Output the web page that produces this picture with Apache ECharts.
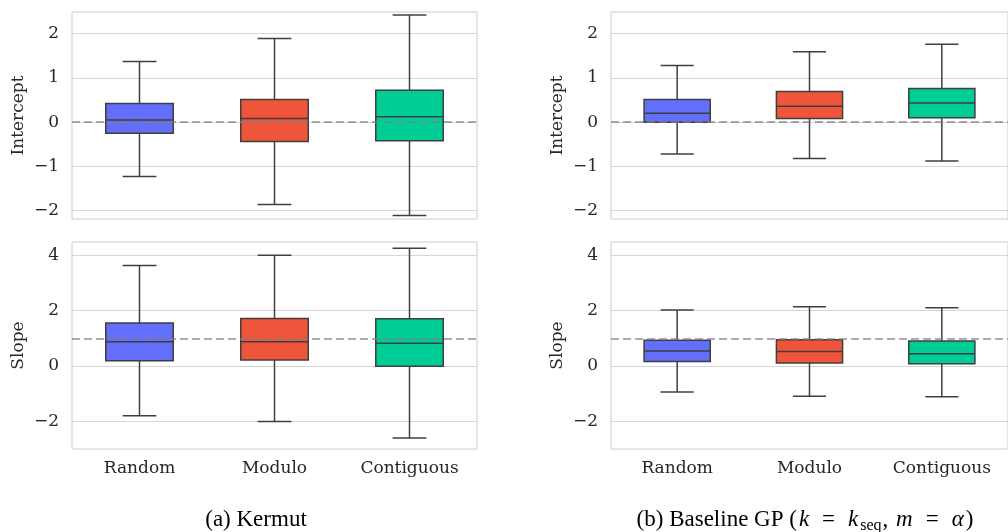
<!DOCTYPE html>
<html>
<head>
<meta charset="utf-8">
<script src="https://cdn.jsdelivr.net/npm/echarts@6/dist/echarts.min.js"></script>
<style>
  html, body { margin: 0; padding: 0; background: #fff; }
  #chart { width: 1008px; height: 532px; }
</style>
</head>
<body>
<div id="chart"></div>
<script>
// categories and box stats: [min, q1, median, q3, max]
const categories = ["Random", "Modulo", "Contiguous"];
const colors = ["#636efa", "#ef553b", "#00cc96"];

const kermutIntercept = [
  [-1.23, -0.25, 0.05, 0.42, 1.37],
  [-1.86, -0.44, 0.08, 0.51, 1.89],
  [-2.11, -0.42, 0.12, 0.72, 2.42]
];
const kermutSlope = [
  [-1.80, 0.19, 0.88, 1.55, 3.63],
  [-2.01, 0.22, 0.88, 1.72, 4.00],
  [-2.60, -0.01, 0.82, 1.71, 4.25]
];
const baselineIntercept = [
  [-0.72, 0.00, 0.20, 0.51, 1.28],
  [-0.82, 0.08, 0.36, 0.69, 1.59],
  [-0.88, 0.10, 0.43, 0.76, 1.76]
];
const baselineSlope = [
  [-0.94, 0.16, 0.54, 0.93, 2.02],
  [-1.09, 0.11, 0.52, 0.95, 2.14],
  [-1.11, 0.08, 0.44, 0.90, 2.10]
];

const interceptTicks = [-2, -1, 0, 1, 2];
const slopeTicks = [-2, 0, 2, 4];
const interceptRef = 0;
const slopeRef = 1;

const tickFont = "DejaVu Serif";
const textColor = "#262626";

var chart = echarts.init(document.getElementById("chart"), null, { renderer: "canvas" });

function renderBox(params, api) {
  const i = api.value(0);
  const lo = api.coord([i, api.value(1)]);
  const q1 = api.coord([i, api.value(2)]);
  const med = api.coord([i, api.value(3)]);
  const q3 = api.coord([i, api.value(4)]);
  const hi = api.coord([i, api.value(5)]);
  const band = api.size([1, 0])[0];
  const bw = band * 0.5;
  const cw = bw * 0.5;
  const cx = lo[0];
  const edge = { stroke: "#3f3f3f", lineWidth: 1.5, fill: null };
  return {
    type: "group",
    children: [
      { type: "line", shape: { x1: cx, y1: q3[1], x2: cx, y2: hi[1] }, style: edge },
      { type: "line", shape: { x1: cx, y1: q1[1], x2: cx, y2: lo[1] }, style: edge },
      { type: "line", shape: { x1: cx - cw / 2, y1: hi[1], x2: cx + cw / 2, y2: hi[1] }, style: edge },
      { type: "line", shape: { x1: cx - cw / 2, y1: lo[1], x2: cx + cw / 2, y2: lo[1] }, style: edge },
      {
        type: "rect",
        shape: { x: cx - bw / 2, y: q3[1], width: bw, height: q1[1] - q3[1] },
        style: { fill: colors[params.dataIndex], stroke: "#3f3f3f", lineWidth: 1.5 }
      },
      { type: "line", shape: { x1: cx - bw / 2, y1: med[1], x2: cx + bw / 2, y2: med[1] }, style: edge }
    ]
  };
}

const grids = [
  { left: 72, top: 12, width: 405, height: 207 },
  { left: 72, top: 242, width: 405, height: 207 },
  { left: 611, top: 12, width: 405, height: 207 },
  { left: 611, top: 242, width: 405, height: 207 }
].map((g) => Object.assign({ show: true, borderColor: "#cccccc", borderWidth: 1, backgroundColor: "#fff" }, g));

const panels = [
  { data: kermutIntercept, ticks: interceptTicks, min: -2.19, max: 2.49, name: "Intercept", ref: interceptRef, bottom: false },
  { data: kermutSlope, ticks: slopeTicks, min: -3.0, max: 4.48, name: "Slope", ref: slopeRef, bottom: true },
  { data: baselineIntercept, ticks: interceptTicks, min: -2.19, max: 2.49, name: "Intercept", ref: interceptRef, bottom: false },
  { data: baselineSlope, ticks: slopeTicks, min: -3.0, max: 4.48, name: "Slope", ref: slopeRef, bottom: true }
];

const xAxis = panels.map((p, k) => ({
  type: "category",
  gridIndex: k,
  data: categories,
  axisLine: { show: false },
  axisTick: { show: false },
  axisLabel: {
    show: p.bottom,
    margin: 11,
    fontFamily: tickFont,
    fontSize: 17,
    color: textColor
  },
  splitLine: { show: false }
}));

const yAxis = panels.map((p, k) => ({
  type: "value",
  gridIndex: k,
  min: p.min,
  max: p.max,
  name: p.name,
  nameLocation: "middle",
  nameGap: 45,
  nameRotate: 90,
  nameTextStyle: { fontFamily: tickFont, fontSize: 17, color: textColor },
  axisLine: { show: false },
  axisTick: { show: false, customValues: p.ticks },
  axisLabel: {
    customValues: p.ticks,
    margin: 13,
    fontFamily: tickFont,
    fontSize: 17,
    color: textColor,
    formatter: (v) => (v < 0 ? "\u2212" + Math.abs(v) : String(v))
  },
  splitLine: { show: true, lineStyle: { color: "#d6d6d6", width: 1.2 } }
}));

const series = panels.map((p, k) => ({
  type: "custom",
  xAxisIndex: k,
  yAxisIndex: k,
  renderItem: renderBox,
  encode: { x: 0, y: [1, 2, 3, 4, 5] },
  data: p.data.map((d, i) => [i].concat(d)),
  z: 2,
  markLine: {
    silent: true,
    symbol: "none",
    z: 5,
    label: { show: false },
    lineStyle: { type: [8, 4], color: "rgba(128,128,128,0.65)", width: 2 },
    data: [{ yAxis: p.ref }]
  }
}));

var option = {
  animation: false,
  backgroundColor: "#fff",
  grid: grids,
  xAxis,
  yAxis,
  series,
  graphic: [
    {
      type: "text",
      x: 256,
      y: 520,
      style: {
        text: "(a) Kermut",
        fontFamily: "Liberation Serif",
        fontSize: 23,
        fill: "#000",
        align: "center",
        verticalAlign: "middle"
      }
    },
    {
      type: "text",
      x: 805,
      y: 520,
      style: {
        text: "(b) Baseline GP ({i|k}{o|=}{i|k}{s|seq}, {i|m}{o|=}{i|\u03b1})",
        fontFamily: "Liberation Serif",
        fontSize: 23,
        fill: "#000",
        align: "center",
        verticalAlign: "middle",
        rich: {
          i: { fontFamily: "Liberation Serif", fontStyle: "italic", fontSize: 23, padding: [0, 2, 0, 2] },
          o: { fontFamily: "Liberation Serif", fontSize: 23, padding: [0, 11, 0, 11] },
          s: { fontFamily: "Liberation Serif", fontSize: 16, verticalAlign: "bottom", padding: [12, 1, 0, 0] }
        }
      }
    }
  ]
};

if (option && typeof option === "object") {
  chart.setOption(option);
}
window.addEventListener("resize", chart.resize);
</script>
</body>
</html>
